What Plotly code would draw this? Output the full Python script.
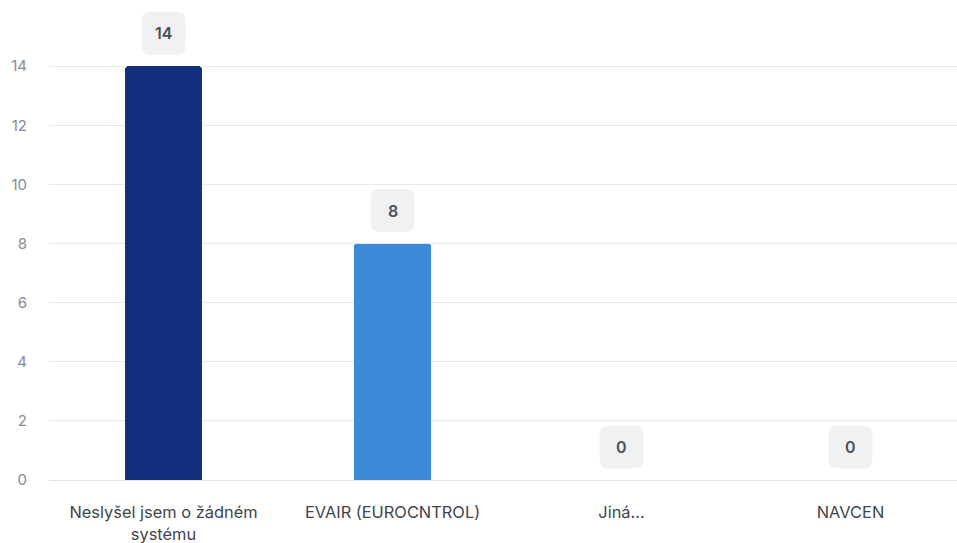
import plotly.graph_objects as go

categories = ["Neslyšel jsem o žádném<br>systému", "EVAIR (EUROCNTROL)", "Jiná...", "NAVCEN"]
values = [14, 8, 0, 0]
bar_colors = ["#13307f", "#3a8ad8", "#9aa5b5", "#c9d1dc"]
y_ticks = [0, 2, 4, 6, 8, 10, 12, 14]

FONT = "Inter, Roboto, sans-serif"

fig = go.Figure()
fig.add_trace(go.Bar(
    x=list(range(len(categories))),
    y=values,
    width=0.336,
    marker=dict(color=bar_colors, cornerradius=4, line=dict(width=0)),
    hoverinfo="skip",
))

# rounded label boxes (pixel-sized, anchored to data points)
def rounded_box(w, h, r, dy):
    x0, x1 = -w / 2, w / 2
    y0, y1 = dy - h / 2, dy + h / 2
    return (f"M{x0 + r},{y0} L{x1 - r},{y0} Q{x1},{y0} {x1},{y0 + r} "
            f"L{x1},{y1 - r} Q{x1},{y1} {x1 - r},{y1} L{x0 + r},{y1} "
            f"Q{x0},{y1} {x0},{y1 - r} L{x0},{y0 + r} Q{x0},{y0} {x0 + r},{y0} Z")

for i, v in enumerate(values):
    fig.add_shape(
        type="path", xref="x", yref="y",
        xsizemode="pixel", ysizemode="pixel",
        xanchor=i, yanchor=v,
        path=rounded_box(44, 43, 9, 33),
        fillcolor="#f0f1f3", line=dict(width=0), layer="above",
    )
    fig.add_annotation(
        x=i, y=v, text=f"{v}", showarrow=False,
        yshift=33, font=dict(family=FONT, size=16, color="#4b5058", weight=600),
        xanchor="center", yanchor="middle",
    )

fig.update_layout(
    width=957, height=543,
    margin=dict(l=49, r=0, t=7, b=63),
    paper_bgcolor="white", plot_bgcolor="white",
    showlegend=False,
    font=dict(family=FONT),
    bargap=0,
)
fig.update_xaxes(
    range=[-0.5, 3.465],
    tickvals=list(range(len(categories))),
    ticktext=categories,
    showgrid=False, zeroline=False, showline=False,
    ticks="", ticklabelstandoff=21,
    tickfont=dict(family=FONT, size=16.4, color="#3f444b"),
    automargin=False,
    fixedrange=True,
)
fig.update_yaxes(
    range=[0, 16],
    tickvals=y_ticks,
    showgrid=True, gridcolor="#e6e8ec", gridwidth=1,
    zeroline=True, zerolinecolor="#dde2e8", zerolinewidth=1,
    showline=False, ticks="",
    ticklabelstandoff=21,
    tickfont=dict(family=FONT, size=15, color="#878c94"),
    automargin=False,
    fixedrange=True,
)

fig.write_html(
    "out.html",
    config={"displayModeBar": False, "staticPlot": True},
    post_script="document.body.style.margin='0';document.body.style.overflow='hidden';",
)
